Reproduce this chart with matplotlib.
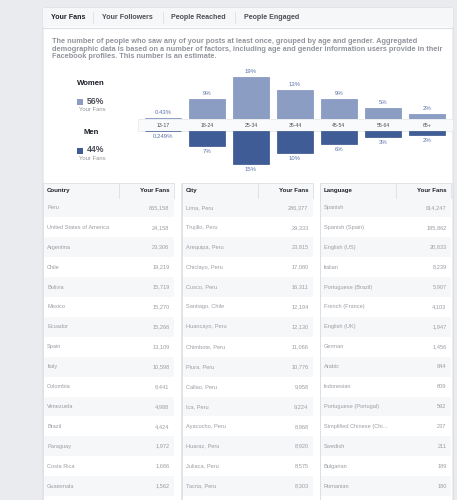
import matplotlib.pyplot as plt
from matplotlib.patches import Rectangle, FancyBboxPatch

plt.rcParams['font.family'] = ['Liberation Sans', 'DejaVu Sans']

W, H = 457, 500

tabs = ["Your Fans", "Your Followers", "People Reached", "People Engaged"]
description = [
    "The number of people who saw any of your posts at least once, grouped by age and gender. Aggregated",
    "demographic data is based on a number of factors, including age and gender information users provide in their",
    "Facebook profiles. This number is an estimate.",
]

ages = ["13-17", "18-24", "25-34", "35-44", "45-54", "55-64", "65+"]
women_pct = [0.43, 9, 19, 13, 9, 5, 2]
men_pct = [0.249, 7, 15, 10, 6, 3, 2]
women_total = 56
men_total = 44

countries = ["Peru", "United States of America", "Argentina", "Chile", "Bolivia",
             "Mexico", "Ecuador", "Spain", "Italy", "Colombia", "Venezuela",
             "Brazil", "Paraguay", "Costa Rica", "Guatemala"]
country_fans = [665158, 24158, 23306, 19219, 15719, 15270, 15266, 13109,
                10598, 8441, 4988, 4424, 1972, 1686, 1562]

cities = ["Lima, Peru", "Trujillo, Peru", "Arequipa, Peru", "Chiclayo, Peru",
          "Cusco, Peru", "Santiago, Chile", "Huancayo, Peru", "Chimbote, Peru",
          "Piura, Peru", "Callao, Peru", "Ica, Peru", "Ayacucho, Peru",
          "Huaraz, Peru", "Juliaca, Peru", "Tacna, Peru"]
city_fans = [286377, 29333, 23815, 17080, 16311, 12194, 12130, 11066,
             10776, 9958, 9224, 8968, 8920, 8575, 8303]

languages = ["Spanish", "Spanish (Spain)", "English (US)", "Italian",
             "Portuguese (Brazil)", "French (France)", "English (UK)", "German",
             "Arabic", "Indonesian", "Portuguese (Portugal)",
             "Simplified Chinese (Chi...", "Swedish", "Bulgarian", "Romanian"]
language_fans = [614247, 185862, 20833, 8239, 5907, 4103, 1947, 1456,
                 844, 609, 592, 237, 211, 189, 180]

women_color = "#8b9dc3"
men_color = "#3f5c97"
border = "#dddfe2"
light = "#f6f7f9"
dark = "#1d2129"
grey = "#90949c"

fig = plt.figure(figsize=(W / 100, H / 100), dpi=100, facecolor="#e9ebee")


def px_axes(x0, y0, x1, y1):
    return fig.add_axes([x0 / W, 1 - y1 / H, (x1 - x0) / W, (y1 - y0) / H])


# background / card
bg = px_axes(0, 0, W, H)
bg.set_xlim(0, W)
bg.set_ylim(H, 0)
bg.axis("off")
bg.add_patch(FancyBboxPatch((43, 8), 410, 520, boxstyle="round,pad=0,rounding_size=3",
                            fc="white", ec=border, lw=0.8))
bg.add_patch(Rectangle((43.4, 8.4), 409.2, 19, fc=light, ec="none"))
bg.plot([43, 453], [27.5, 27.5], color=border, lw=0.8)

tab_x = [51, 102.3, 170.7, 244]
for i, (t, x) in enumerate(zip(tabs, tab_x)):
    bg.text(x, 17.5, t, fontsize=5.1, fontweight="bold",
            color=dark if i == 0 else "#4b4f56", va="center")
for x in [93.3, 162.7, 235]:
    bg.plot([x, x], [12, 23], color=border, lw=0.6)

for i, line in enumerate(description):
    bg.text(51.5, 41.7 + 7.6 * i, line, fontsize=5.3, fontweight="bold",
            color=grey, va="center")

# legend on the left
for label, total, color, y in [("Women", women_total, women_color, 83.3),
                               ("Men", men_total, men_color, 132)]:
    bg.text(91, y, label, fontsize=5.6, fontweight="bold", color=dark,
            ha="center", va="center")
    bg.add_patch(Rectangle((77, y + 16), 6, 6, fc=color, ec="none"))
    bg.text(86.7, y + 18, f"{total}%", fontsize=6.2, fontweight="bold",
            color="#4b4f56", va="center")
    bg.text(92, y + 26, "Your Fans", fontsize=4.2, color=grey,
            ha="center", va="center")

# age band
bg.add_patch(Rectangle((138, 119.3), 315, 11.4, fc="#f9fafb", ec="#e5e6e9", lw=0.5))

# bars
scale = 2.2
ax_w = px_axes(141, 60, 449, 118.6)
ax_w.set_xlim(-0.5, 6.5)
ax_w.set_ylim(0, (118.6 - 60) / scale)
ax_w.axis("off")
ax_w.bar(range(len(ages)), women_pct, width=0.84, color=women_color,
         edgecolor="#7f92bd", linewidth=0.5)
for i, v in enumerate(women_pct):
    ax_w.annotate(f"{v:g}%", (i, v), xytext=(0, 4), textcoords="offset points",
                  ha="center", va="center", fontsize=4.3, color="#5b74a8")
    ax_w.annotate(ages[i], (i, 0), xytext=(0, -4.9), textcoords="offset points",
                  ha="center", va="center", fontsize=3.7, color="#4b4f56",
                  annotation_clip=False)

ax_m = px_axes(141, 130.7, 449, 178)
ax_m.set_xlim(-0.5, 6.5)
ax_m.set_ylim((178 - 130.7) / scale, 0)
ax_m.axis("off")
ax_m.bar(range(len(ages)), men_pct, width=0.84, color=men_color,
         edgecolor="#35528c", linewidth=0.5)
for i, v in enumerate(men_pct):
    ax_m.annotate(f"{v:g}%", (i, v), xytext=(0, -4), textcoords="offset points",
                  ha="center", va="center", fontsize=4.3, color="#5b74a8")

# tables
tables = [("Country", countries, country_fans, 43),
          ("City", cities, city_fans, 182),
          ("Language", languages, language_fans, 320)]
row_h = 19.9
top = 183.3
head_h = 14.2
for title, names, fans, left in tables:
    width = 131
    bg.add_patch(Rectangle((left, top), width, head_h, fc=light, ec=border, lw=0.6))
    bg.plot([left + 76, left + 76], [top, top + head_h], color=border, lw=0.6)
    bg.text(left + 4, top + head_h / 2, title, fontsize=4.4, fontweight="bold",
            color=dark, va="center")
    bg.text(left + 126.5, top + head_h / 2, "Your Fans", fontsize=4.4,
            fontweight="bold", color=dark, va="center", ha="right")
    for i, (n, f) in enumerate(zip(names, fans)):
        y0 = top + head_h + row_h * i
        if i % 2 == 0:
            bg.add_patch(Rectangle((left, y0), width, row_h, fc=light, ec="none"))
        bg.text(left + 4, y0 + row_h / 2, n, fontsize=4.1, color="#9a9da3", va="center")
        bg.text(left + 126.5, y0 + row_h / 2, f"{f:,}", fontsize=4.1, color="#9a9da3",
                va="center", ha="right")
    rx = min(left + 137.5, 453)
    bg.plot([rx, rx], [top, H], color=border, lw=0.6)
    bg.plot([left, left], [top, H], color=border, lw=0.6)

fig.savefig("out.png", dpi=100, facecolor=fig.get_facecolor())
